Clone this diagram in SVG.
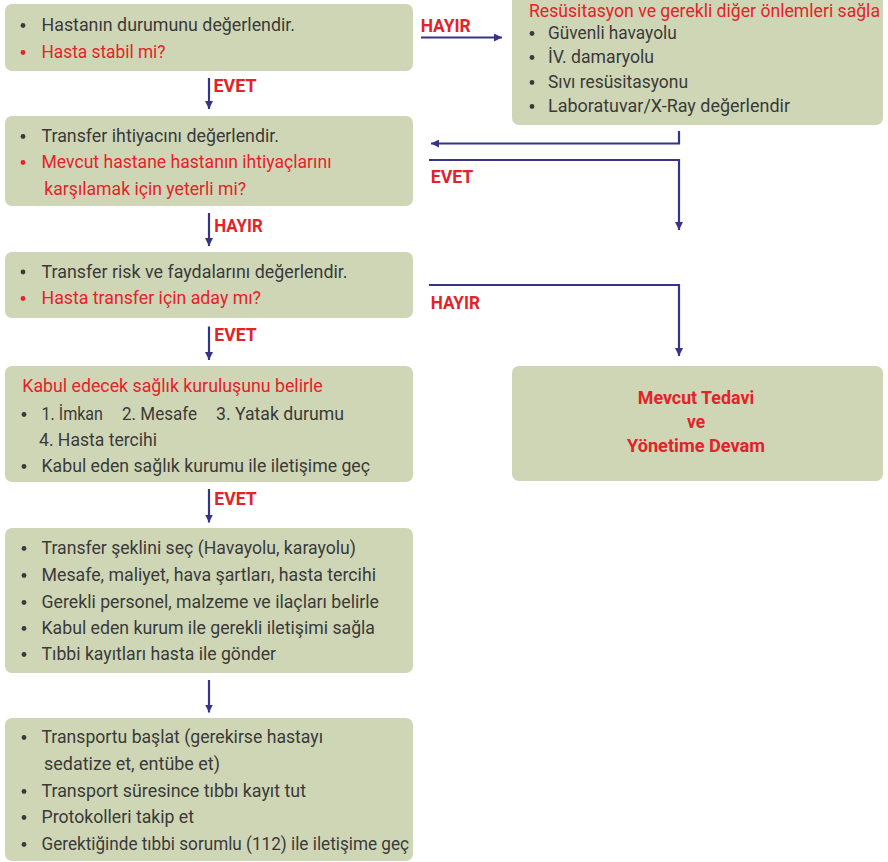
<svg xmlns="http://www.w3.org/2000/svg" width="888" height="862" viewBox="0 0 888 862">
<style>
.box{fill:#cfd6b5}
.t{font-family:Roboto,"Liberation Sans",sans-serif;font-size:18.6px;fill:#3a3a3a}
.r{fill:#e42229}
.d{fill:#3a3a3a}
.dr{fill:#e42229}
.lbl{font-family:Roboto,"Liberation Sans",sans-serif;font-size:19px;font-weight:bold;fill:#e42229}
.c{stroke:#35338a;stroke-width:2.2;fill:none}
</style>
<defs>
<marker id="ah" markerUnits="userSpaceOnUse" markerWidth="8" markerHeight="8" refX="8" refY="4" orient="auto">
<path d="M0,0 L8,4 L0,8 z" fill="#35338a"/>
</marker>
</defs>
<rect width="888" height="862" fill="#ffffff"/>

<g id="n1">
<rect class="box" x="5" y="4" width="408" height="67" rx="7"/>
<circle class="d" cx="23" cy="25.5" r="2.4"/>
<text class="t" x="41.5" y="31" textLength="253.5" lengthAdjust="spacingAndGlyphs">Hastanın durumunu değerlendir.</text>
<circle class="dr" cx="23" cy="52.5" r="2.4"/>
<text class="t r" x="41.5" y="58" textLength="124" lengthAdjust="spacingAndGlyphs">Hasta stabil mi?</text>
</g>

<g id="n2">
<rect class="box" x="5" y="116" width="408" height="90" rx="7"/>
<circle class="d" cx="23" cy="136.5" r="2.4"/>
<text class="t" x="41.5" y="142" textLength="237.5" lengthAdjust="spacingAndGlyphs">Transfer ihtiyacını değerlendir.</text>
<circle class="dr" cx="23" cy="162.5" r="2.4"/>
<text class="t r" x="41.5" y="168" textLength="290" lengthAdjust="spacingAndGlyphs">Mevcut hastane hastanın ihtiyaçlarını</text>
<text class="t r" x="44.3" y="194.5" textLength="201.7" lengthAdjust="spacingAndGlyphs">karşılamak için yeterli mi?</text>
</g>

<g id="n3">
<rect class="box" x="5" y="252" width="408" height="66" rx="7"/>
<circle class="d" cx="23" cy="272" r="2.4"/>
<text class="t" x="41.5" y="277.5" textLength="306" lengthAdjust="spacingAndGlyphs">Transfer risk ve faydalarını değerlendir.</text>
<circle class="dr" cx="23" cy="298.5" r="2.4"/>
<text class="t r" x="41.5" y="304" textLength="219.5" lengthAdjust="spacingAndGlyphs">Hasta transfer için aday mı?</text>
</g>

<g id="n4">
<rect class="box" x="5" y="366" width="408" height="116" rx="7"/>
<text class="t r" x="22.3" y="392" textLength="300.4" lengthAdjust="spacingAndGlyphs">Kabul edecek sağlık kuruluşunu belirle</text>
<circle class="d" cx="24" cy="414.5" r="2.4"/>
<text class="t" y="420"><tspan x="41.5" textLength="61.5" lengthAdjust="spacingAndGlyphs">1. İmkan</tspan><tspan x="122" textLength="75" lengthAdjust="spacingAndGlyphs">2. Mesafe</tspan><tspan x="216" textLength="128" lengthAdjust="spacingAndGlyphs">3. Yatak durumu</tspan></text>
<text class="t" x="39" y="446" textLength="118" lengthAdjust="spacingAndGlyphs">4. Hasta tercihi</text>
<circle class="d" cx="24" cy="466.5" r="2.4"/>
<text class="t" x="41.5" y="472" textLength="328.5" lengthAdjust="spacingAndGlyphs">Kabul eden sağlık kurumu ile iletişime geç</text>
</g>

<g id="n5">
<rect class="box" x="5" y="528" width="408" height="145" rx="7"/>
<circle class="d" cx="24" cy="548.5" r="2.4"/>
<text class="t" x="41.5" y="554" textLength="314.5" lengthAdjust="spacingAndGlyphs">Transfer şeklini seç (Havayolu, karayolu)</text>
<circle class="d" cx="24" cy="575.5" r="2.4"/>
<text class="t" x="41.5" y="581" textLength="334.5" lengthAdjust="spacingAndGlyphs">Mesafe, maliyet, hava şartları, hasta tercihi</text>
<circle class="d" cx="24" cy="602.5" r="2.4"/>
<text class="t" x="41.5" y="608" textLength="337.5" lengthAdjust="spacingAndGlyphs">Gerekli personel, malzeme ve ilaçları belirle</text>
<circle class="d" cx="24" cy="628.5" r="2.4"/>
<text class="t" x="41.5" y="634" textLength="333.5" lengthAdjust="spacingAndGlyphs">Kabul eden kurum ile gerekli iletişimi sağla</text>
<circle class="d" cx="24" cy="654.5" r="2.4"/>
<text class="t" x="41.5" y="660" textLength="234.5" lengthAdjust="spacingAndGlyphs">Tıbbi kayıtları hasta ile gönder</text>
</g>

<g id="n6">
<rect class="box" x="5" y="718" width="408" height="143" rx="7"/>
<circle class="d" cx="24" cy="737.5" r="2.4"/>
<text class="t" x="41.5" y="743" textLength="281.5" lengthAdjust="spacingAndGlyphs">Transportu başlat (gerekirse hastayı</text>
<text class="t" x="44" y="770" textLength="176" lengthAdjust="spacingAndGlyphs">sedatize et, entübe et)</text>
<circle class="d" cx="24" cy="791.5" r="2.4"/>
<text class="t" x="41.5" y="797" textLength="264.5" lengthAdjust="spacingAndGlyphs">Transport süresince tıbbı kayıt tut</text>
<circle class="d" cx="24" cy="817.5" r="2.4"/>
<text class="t" x="41.5" y="823" textLength="152.5" lengthAdjust="spacingAndGlyphs">Protokolleri takip et</text>
<circle class="d" cx="24" cy="844.5" r="2.4"/>
<text class="t" x="41.5" y="850" textLength="367.5" lengthAdjust="spacingAndGlyphs">Gerektiğinde tıbbi sorumlu (112) ile iletişime geç</text>
</g>

<g id="n7">
<path class="box" d="M512 0 H883 V118 A7 7 0 0 1 876 125 H519 A7 7 0 0 1 512 118 Z"/>
<text class="t r" x="529" y="16.5" font-size="17.4" textLength="351" lengthAdjust="spacingAndGlyphs">Resüsitasyon ve gerekli diğer önlemleri sağla</text>
<circle class="d" cx="532" cy="33.5" r="2.4"/>
<text class="t" x="548" y="39" textLength="128.7" lengthAdjust="spacingAndGlyphs">Güvenli havayolu</text>
<circle class="d" cx="532" cy="57.5" r="2.4"/>
<text class="t" x="548" y="63" textLength="106" lengthAdjust="spacingAndGlyphs">İV. damaryolu</text>
<circle class="d" cx="532" cy="82.5" r="2.4"/>
<text class="t" x="548" y="88" textLength="140" lengthAdjust="spacingAndGlyphs">Sıvı resüsitasyonu</text>
<circle class="d" cx="532" cy="106.5" r="2.4"/>
<text class="t" x="548" y="112" textLength="242" lengthAdjust="spacingAndGlyphs">Laboratuvar/X-Ray değerlendir</text>
</g>

<g id="n8">
<rect class="box" x="512" y="366" width="371" height="115" rx="7"/>
<text class="lbl" x="696" y="404" text-anchor="middle" textLength="116.3" lengthAdjust="spacingAndGlyphs">Mevcut Tedavi</text>
<text class="lbl" x="696" y="428" text-anchor="middle" textLength="18" lengthAdjust="spacingAndGlyphs">ve</text>
<text class="lbl" x="696" y="452" text-anchor="middle" textLength="138" lengthAdjust="spacingAndGlyphs">Yönetime Devam</text>
</g>

<g id="connectors">
<path class="c" d="M209 78 V109" marker-end="url(#ah)"/>
<path class="c" d="M209 213 V246" marker-end="url(#ah)"/>
<path class="c" d="M209 326.5 V360" marker-end="url(#ah)"/>
<path class="c" d="M209 489 V522.5" marker-end="url(#ah)"/>
<path class="c" d="M209 680 V712.5" marker-end="url(#ah)"/>
<path class="c" d="M421 37.5 H502" marker-end="url(#ah)"/>
<path class="c" d="M679 131 V143.5 H431" marker-end="url(#ah)"/>
<path class="c" d="M429 160 H679 V230" marker-end="url(#ah)"/>
<path class="c" d="M429 285 H679 V356" marker-end="url(#ah)"/>
<text class="lbl" x="420.7" y="31.7" textLength="50" lengthAdjust="spacingAndGlyphs">HAYIR</text>
<text class="lbl" x="213.5" y="91.5" textLength="43" lengthAdjust="spacingAndGlyphs">EVET</text>
<text class="lbl" x="430.7" y="183.3" textLength="42.6" lengthAdjust="spacingAndGlyphs">EVET</text>
<text class="lbl" x="214.3" y="231.7" textLength="48.4" lengthAdjust="spacingAndGlyphs">HAYIR</text>
<text class="lbl" x="214.3" y="341" textLength="42.4" lengthAdjust="spacingAndGlyphs">EVET</text>
<text class="lbl" x="430.7" y="309.3" textLength="49.3" lengthAdjust="spacingAndGlyphs">HAYIR</text>
<text class="lbl" x="214.3" y="505" textLength="42.4" lengthAdjust="spacingAndGlyphs">EVET</text>
</g>
</svg>
